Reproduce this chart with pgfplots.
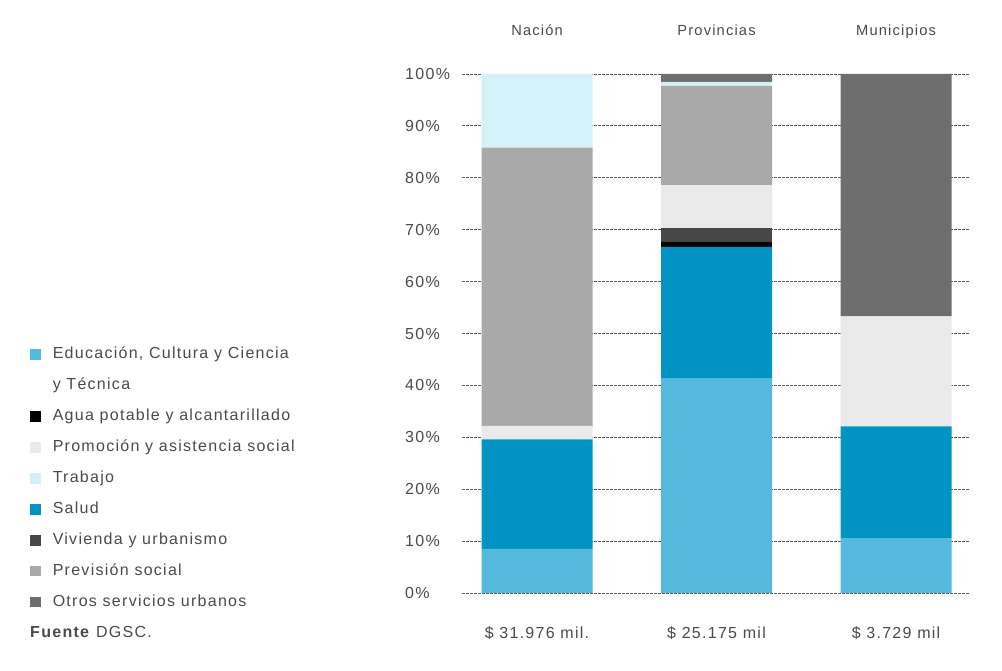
\documentclass[border=0pt]{standalone}
\usepackage{pgfplots}
\pgfplotsset{compat=1.18}
\usepackage{pgfplotstable}
\usepackage{fontspec}
\setmainfont{Liberation Sans}[LetterSpace=8]

\definecolor{educ}{HTML}{55B9DE}
\definecolor{salud}{HTML}{0093C4}
\definecolor{agua}{HTML}{000000}
\definecolor{viv}{HTML}{474747}
\definecolor{prom}{HTML}{EAEAEA}
\definecolor{prev}{HTML}{A9A9A9}
\definecolor{trab}{HTML}{D4F1F7}
\definecolor{otros}{HTML}{6E6E6E}
\definecolor{txt}{HTML}{4A4A4A}
\definecolor{gridc}{HTML}{5A5A5A}

\pgfplotstableread{
x educ salud agua viv prom prev trab otros
0 8.5 21.1 0 0 2.6 53.6 14.2 0
1 41.4 25.3 1.0 2.6 8.3 19.1 0.8 1.5
2 10.5 21.6 0 0 21.2 0 0 46.7
}\data

\pgfplotsset{sq legend/.style={legend image code/.code={\fill[##1, draw=none] (0pt,-4pt) rectangle (8pt,4pt);}}}

\begin{document}
\begin{tikzpicture}[font=\fontsize{12}{14}\selectfont, text=txt]
\begin{axis}[
  scale only axis, width=381pt, height=389.25pt,
  ybar stacked, bar width=83.25pt,
  xmin=-0.418, xmax=2.412, ymin=0, ymax=100,
  xtick={0,1,2}, xticklabels={Nación,Provincias,Municipios},
  xticklabel pos=upper,
  xticklabel style={anchor=base, yshift=29pt, font=\fontsize{11}{13}\selectfont},
  ytick={0,10,20,30,40,50,60,70,80,90,100},
  yticklabels={0\%,10\%,20\%,30\%,40\%,50\%,60\%,70\%,80\%,90\%,100\%},
  yticklabel style={anchor=west, inner sep=0pt, xshift=-42.75pt},
  axis line style={draw=none}, major tick length=0pt,
  ymajorgrids, grid style={gridc, line width=0.6pt, dash pattern=on 2pt off 1pt},
  clip=false,
  legend cell align=left,
  legend style={at={(axis description cs:-0.8504,0.474)}, anchor=north west,
    draw=none, fill=none, inner sep=0pt, row sep=12.2pt, column sep=0pt,
    nodes={inner sep=0pt, text height=8.5pt, text depth=2.5pt, text=txt},
    /tikz/every odd column/.style={column sep=8.9pt}},
]
\addlegendimage{sq legend, fill=educ}
\addlegendimage{empty legend}
\addlegendimage{sq legend, fill=agua}
\addlegendimage{sq legend, fill=prom}
\addlegendimage{sq legend, fill=trab}
\addlegendimage{sq legend, fill=salud}
\addlegendimage{sq legend, fill=viv}
\addlegendimage{sq legend, fill=prev}
\addlegendimage{sq legend, fill=otros}

\addplot[fill=educ, draw=none, forget plot] table[x=x,y=educ]{\data};
\addplot[fill=salud, draw=none, forget plot] table[x=x,y=salud]{\data};
\addplot[fill=agua, draw=none, forget plot] table[x=x,y=agua]{\data};
\addplot[fill=viv, draw=none, forget plot] table[x=x,y=viv]{\data};
\addplot[fill=prom, draw=none, forget plot] table[x=x,y=prom]{\data};
\addplot[fill=prev, draw=none, forget plot] table[x=x,y=prev]{\data};
\addplot[fill=trab, draw=none, forget plot] table[x=x,y=trab]{\data};
\addplot[fill=otros, draw=none, forget plot] table[x=x,y=otros]{\data};

\legend{{Educación, Cultura y Ciencia}, y Técnica, Agua potable y alcantarillado, Promoción y asistencia social, Trabajo, Salud, Vivienda y urbanismo, Previsión social, Otros servicios urbanos}

\node[anchor=base] at (axis cs:0,0) [yshift=-33.75pt] {\$ 31.976 mil.};
\node[anchor=base] at (axis cs:1,0) [yshift=-33.75pt] {\$ 25.175 mil};
\node[anchor=base] at (axis cs:2,0) [yshift=-33.75pt] {\$ 3.729 mil};
\node[anchor=west, inner sep=0pt] at (axis description cs:-0.8504,-0.0751) {\textbf{Fuente} DGSC.};
\path (axis description cs:-0.9094,-0.1484) rectangle (axis description cs:1.063,1.1426);
\end{axis}
\end{tikzpicture}
\end{document}
